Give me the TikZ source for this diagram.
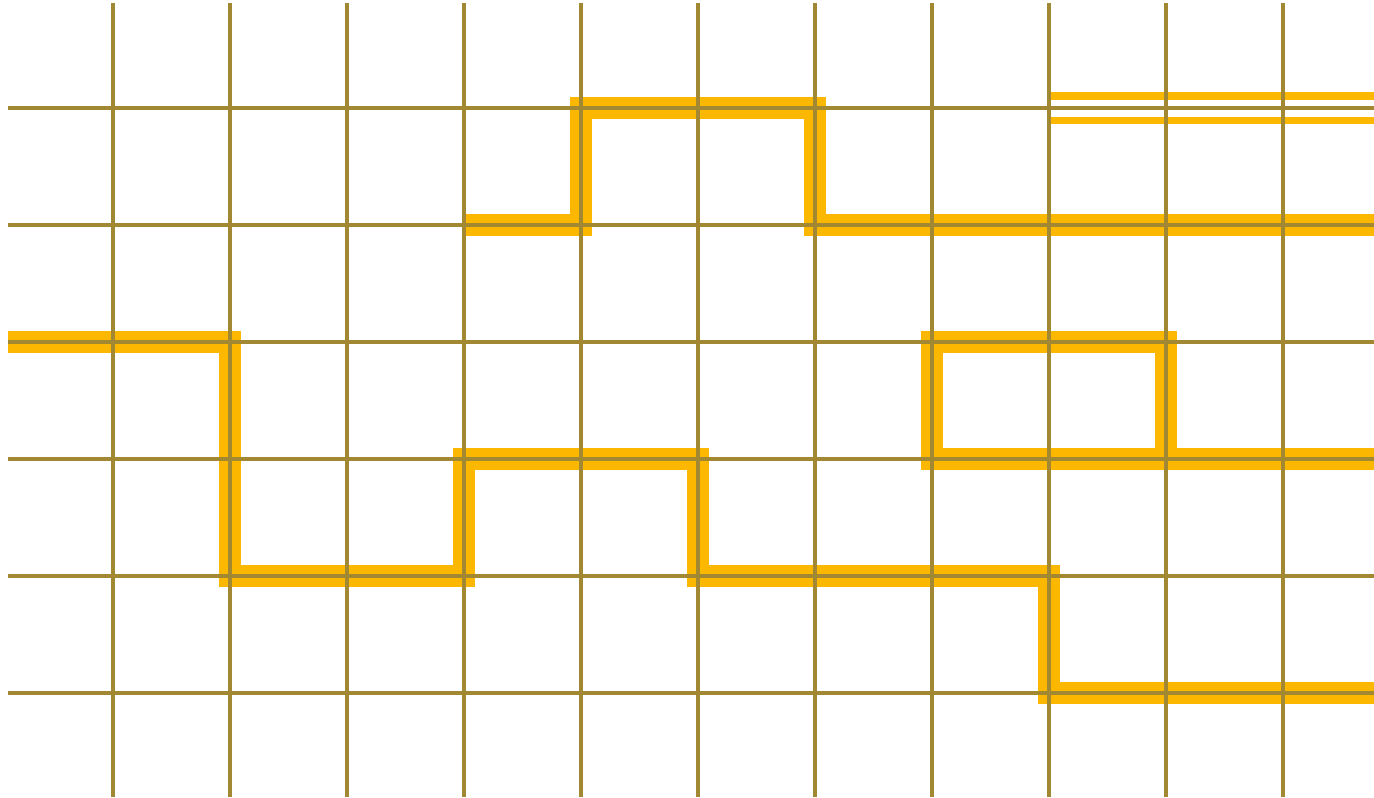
\documentclass[tikz,border=0pt]{standalone}
\usetikzlibrary{calc}
\definecolor{gridc}{RGB}{162,136,50}
\definecolor{yel}{RGB}{252,183,0}
\tikzset{
  gridline/.style={draw=gridc, line width=4pt},
  trace/.style={draw=yel, line width=22pt, line join=miter, line cap=butt},
  dbltrace/.style={draw=yel, line width=7.5pt, double=white, double distance=17pt, line cap=butt}
}
\begin{document}
\begin{tikzpicture}[x=1pt,y=-1pt]
\useasboundingbox (0,0) rectangle (1374,798);
% yellow traces
\draw[trace] (464,225) -- (581,225) -- (581,108) -- (815,108) -- (815,225) -- (1374,225);
\draw[trace] (8,342) -- (230,342) -- (230,576) -- (464,576) -- (464,459) -- (698,459) -- (698,576) -- (1049,576) -- (1049,693) -- (1374,693);
\draw[trace] (932,342) -- (1166,342) -- (1166,459) -- (932,459) -- cycle;
\draw[trace] (1166,459) -- (1374,459);
\draw[dbltrace] (1049,108) -- (1374,108);
% grid
\foreach \i in {0,...,10} {
  \draw[gridline] ({113+117*\i},3) -- ({113+117*\i},797);
}
\foreach \j in {0,...,5} {
  \draw[gridline] (8,{108+117*\j}) -- (1374,{108+117*\j});
}
\end{tikzpicture}
\end{document}
